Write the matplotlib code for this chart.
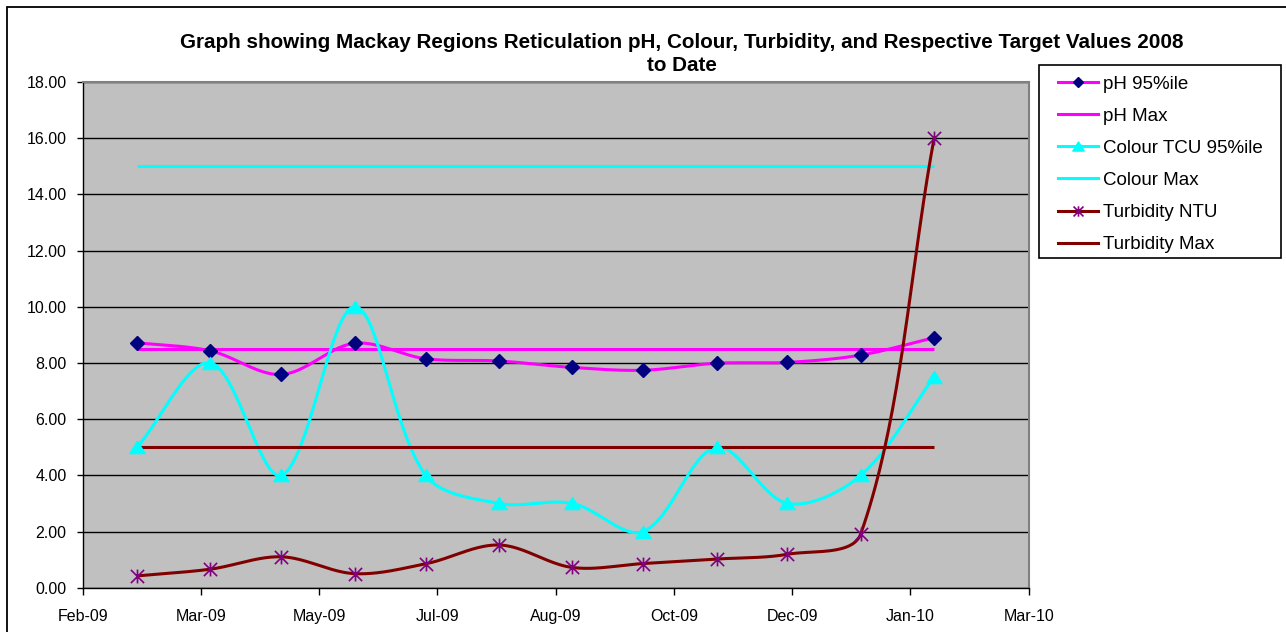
import datetime as dt

import matplotlib as mpl

mpl.use("Agg")

import matplotlib.dates as mdates
import matplotlib.pyplot as plt
import numpy as np
from matplotlib.lines import Line2D
from matplotlib.patches import Rectangle
from matplotlib.path import Path


MONTHS = ["2009-03-01", "2009-04-01", "2009-05-01", "2009-06-01", "2009-07-01", "2009-08-01",
          "2009-09-01", "2009-10-01", "2009-11-01", "2009-12-01", "2010-01-01", "2010-02-01"]
PH_95 = [8.72, 8.43, 7.59, 8.70, 8.15, 8.07, 7.84, 7.74, 7.99, 8.02, 8.28, 8.90]
PH_MAX = [8.5] * 12
COLOUR_95 = [5.0, 8.0, 4.0, 10.0, 4.0, 3.0, 3.0, 2.0, 5.0, 3.0, 4.0, 7.5]
COLOUR_MAX = [15.0] * 12
TURB_NTU = [0.42, 0.66, 1.10, 0.50, 0.85, 1.52, 0.72, 0.86, 1.02, 1.19, 1.92, 16.0]
TURB_MAX = [5.0] * 12

AXIS_START = "2009-02-06"
AXIS_STEP_DAYS = 50
Y_TICKS = [0, 2, 4, 6, 8, 10, 12, 14, 16, 18]

TITLE = ("Graph showing Mackay Regions Reticulation pH, Colour, Turbidity, and Respective Target Values 2008\n"
         "to Date")

W, H = 1286, 632


def smooth_display(ax, x, y, n=40):
    # Excel-style smoothing: Bezier segments, control arms scaled by neighbouring
    # segment lengths measured on screen
    pts = ax.transData.transform(np.column_stack([x, y]))
    p = np.vstack([pts[:1], pts, pts[-1:]])
    seg = np.linalg.norm(np.diff(p, axis=0), axis=1)
    t = np.linspace(0, 1, n)[:, None]
    out = []
    for i in range(1, len(p) - 2):
        p0, p3 = p[i], p[i + 1]
        d0 = p[i + 1] - p[i - 1]
        d1 = p[i + 2] - p[i]
        a0 = seg[i] / max(seg[i - 1] + seg[i], 1e-9) / 3
        a1 = seg[i] / max(seg[i] + seg[i + 1], 1e-9) / 3
        c1 = p0 + d0 * a0
        c2 = p3 - d1 * a1
        out.append((1 - t) ** 3 * p0 + 3 * (1 - t) ** 2 * t * c1 + 3 * (1 - t) * t ** 2 * c2 + t ** 3 * p3)
    data = ax.transData.inverted().transform(np.vstack(out))
    return data[:, 0], data[:, 1]


STAR = Path([(-1, -1), (1, 1), (-1, 1), (1, -1), (0, -1.05), (0, 1.05)],
            [Path.MOVETO, Path.LINETO, Path.MOVETO, Path.LINETO, Path.MOVETO, Path.LINETO])
TRI = Path([(0, 0.8), (-1, -0.8), (1, -0.8), (0, 0.8)],
           [Path.MOVETO, Path.LINETO, Path.LINETO, Path.CLOSEPOLY])


def main():
    plt.rcParams["font.family"] = ["Liberation Sans", "DejaVu Sans"]

    fig = plt.figure(figsize=(W / 100, H / 100), dpi=100)
    fig.patches.append(Rectangle((6.5 / W, -0.05), 1.1, 1 - 7 / H + 0.05, transform=fig.transFigure,
                                 facecolor="none", edgecolor="black", lw=1.3, zorder=0))

    left, right, top, bottom = 82.7, 1028.7, 82.0, 587.7
    ax = fig.add_axes([left / W, 1 - bottom / H, (right - left) / W, (bottom - top) / H])
    ax.set_facecolor("#c0c0c0")

    start = mdates.date2num(dt.datetime.fromisoformat(AXIS_START))
    xticks = start + AXIS_STEP_DAYS * np.arange(9)
    ax.set_xlim(xticks[0], xticks[-1])
    ax.set_xticks(xticks)
    ax.xaxis.set_major_formatter(mdates.DateFormatter("%b-%y"))
    ax.set_ylim(0, 18)
    ax.set_yticks(Y_TICKS)
    ax.set_yticklabels([f"{v:.2f}" for v in Y_TICKS])

    dates = [dt.datetime.fromisoformat(m) for m in MONTHS]
    xnum = mdates.date2num(dates)

    series = [
        (PH_95, "#ff00ff", "D", "#000080", "#000080", 7.4, 1.0, "pH 95%ile"),
        (PH_MAX, "#ff00ff", None, None, None, 0, 0, "pH Max"),
        (COLOUR_95, "#00ffff", TRI, "#00ffff", "#00ffff", 11, 1.0, "Colour TCU 95%ile"),
        (COLOUR_MAX, "#00ffff", None, None, None, 0, 0, "Colour Max"),
        (TURB_NTU, "#800000", STAR, "none", "#800080", 10, 1.2, "Turbidity NTU"),
        (TURB_MAX, "#800000", None, None, None, 0, 0, "Turbidity Max"),
    ]

    handles = []
    for vals, color, marker, mfc, mec, ms, mew, label in series:
        sx, sy = smooth_display(ax, xnum, vals)
        ax.plot(sx, sy, color=color, lw=2.2, zorder=3, solid_capstyle="butt")
        if marker is not None:
            ax.plot(xnum, vals, linestyle="none", marker=marker, ms=ms, mfc=mfc, mec=mec, mew=mew, zorder=4)
            handles.append(Line2D([], [], color=color, lw=2.2, marker=marker, ms=ms * 0.75, mfc=mfc,
                                  mec=mec, mew=mew, label=label))
        else:
            handles.append(Line2D([], [], color=color, lw=2.2, label=label))

    ax.yaxis.grid(True, color="black", lw=1.0)
    ax.set_axisbelow(True)

    for side in ("top", "right"):
        ax.spines[side].set_color("#808080")
        ax.spines[side].set_linewidth(1.5)
    for side in ("left", "bottom"):
        ax.spines[side].set_color("black")
        ax.spines[side].set_linewidth(1.0)
    ax.tick_params(axis="y", direction="out", length=4, width=1, labelsize=11.5, pad=7.5)
    ax.tick_params(axis="x", direction="out", length=5, width=1, labelsize=11.5, pad=10)

    fig.text(681.5 / W, 1 - 33 / H, TITLE, ha="center", va="top", fontsize=14.9, fontweight="bold",
             linespacing=1.25)

    fig.patches.append(Rectangle((1038.7 / W, 1 - 257.7 / H), (1281 - 1038.7) / W, (257.7 - 65) / H,
                                 transform=fig.transFigure, facecolor="white", edgecolor="black",
                                 lw=1.2, zorder=1))
    leg = fig.legend(handles=handles, loc="upper left", bbox_to_anchor=(1058 / W, 1 - 75.5 / H),
                     frameon=False, fontsize=13.5, handlelength=2.13, handletextpad=0.25,
                     labelspacing=0.8, borderpad=0, borderaxespad=0)
    leg.set_zorder(5)

    fig.savefig("out.png", dpi=100)


if __name__ == "__main__":
    main()
